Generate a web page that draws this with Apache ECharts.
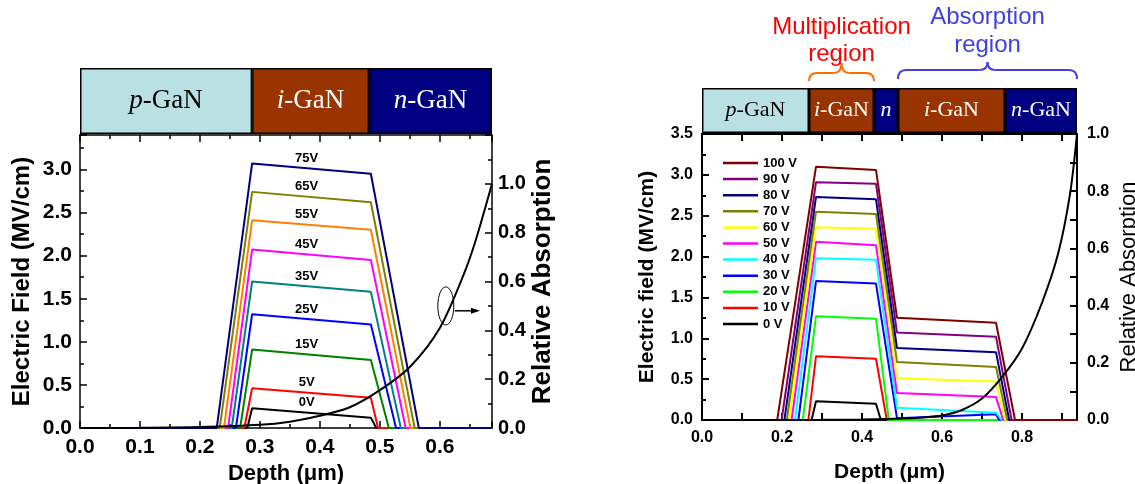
<!DOCTYPE html>
<html>
<head>
<meta charset="utf-8">
<script src="https://cdn.jsdelivr.net/npm/echarts@6/dist/echarts.min.js"></script>
<style>
  html, body { margin: 0; padding: 0; background: #fff; }
  #chart { width: 1135px; height: 484px; }
</style>
</head>
<body>
<div id="chart"></div>
<script>
// ---- left panel data (p-i-n) ----
const leftVolts = ['0V', '5V', '15V', '25V', '35V', '45V', '55V', '65V', '75V'];
const leftColors = ['#000000', '#ff0000', '#008000', '#0000ff', '#008080', '#ff00ff', '#ff8000', '#808000', '#000080'];
const leftPeakStart = [0.23, 0.46, 0.91, 1.32, 1.70, 2.07, 2.41, 2.74, 3.07];
const leftPeakEnd = [0.12, 0.35, 0.79, 1.20, 1.58, 1.95, 2.30, 2.62, 2.95];
const leftRiseFoot = [0.279, 0.274, 0.267, 0.260, 0.253, 0.247, 0.240, 0.233, 0.228];
const leftFallFoot = [0.494, 0.497, 0.515, 0.527, 0.535, 0.543, 0.551, 0.558, 0.565];
const leftPlateauX = [0.287, 0.485];
const leftLabelX = 0.378;
const leftAbsX = [0, 0.1, 0.2, 0.3, 0.35, 0.4, 0.45, 0.5, 0.55, 0.6, 0.64, 0.66, 0.687];
const leftAbsY = [0, 0.001, 0.004, 0.013, 0.026, 0.05, 0.085, 0.155, 0.25, 0.41, 0.63, 0.77, 1.0];
const leftXMax = 0.687;
const leftLayerItalic = ['p', 'i', 'n'];
const leftLayerRest = ['-GaN', '-GaN', '-GaN'];
const leftLayerWidths = [0.287, 0.195, 0.205];
const leftLayerColors = ['#b9e0e2', '#993300', '#000080'];
const leftLayerText = ['#000', '#fff', '#fff'];

// ---- right panel data (SAM structure) ----
const rightVolts = ['0 V', '10 V', '20 V', '30 V', '40 V', '50 V', '60 V', '70 V', '80 V', '90 V', '100 V'];
const rightColors = ['#000000', '#ff0000', '#00ff00', '#0000ff', '#00ffff', '#ff00ff', '#ffff00', '#808000', '#000080', '#800080', '#800000'];
const rightPeakStart = [0.23, 0.78, 1.27, 1.70, 1.98, 2.18, 2.36, 2.55, 2.73, 2.91, 3.10];
const rightPeakEnd = [0.20, 0.75, 1.24, 1.67, 1.96, 2.14, 2.34, 2.52, 2.70, 2.89, 3.06];
const rightLowStart = [null, null, null, 0.02, 0.15, 0.33, 0.51, 0.71, 0.88, 1.07, 1.25];
const rightLowEnd = [null, null, null, 0.07, 0.09, 0.28, 0.47, 0.65, 0.83, 1.02, 1.19];
const rightRiseFoot = [0.274, 0.266, 0.252, 0.241, 0.2325, 0.224, 0.2175, 0.212, 0.206, 0.199, 0.188];
const rightFallFoot = [0.447, 0.462, 0.467, 0.743, 0.749, 0.753, 0.7575, 0.763, 0.768, 0.774, 0.7825];
const rightPeakX = [0.285, 0.435];
const rightLowX = [0.4875, 0.735];
const rightAbsX = [0, 0.3, 0.4, 0.5, 0.55, 0.6, 0.65, 0.7, 0.75, 0.8, 0.85, 0.89, 0.92, 0.9375];
const rightAbsY = [0, 0.0005, 0.002, 0.005, 0.009, 0.016, 0.035, 0.075, 0.15, 0.25, 0.41, 0.58, 0.79, 1.0];
const rightXMax = 0.9375;
const rightLayerItalic = ['p', 'i', 'n', 'i', 'n'];
const rightLayerRest = ['-GaN', '-GaN', '', '-GaN', '-GaN'];
const rightLayerWidths = [0.2675, 0.1625, 0.06, 0.2675, 0.18];
const rightLayerColors = ['#b9e0e2', '#993300', '#000080', '#993300', '#000080'];
const rightLayerText = ['#000', '#fff', '#fff', '#fff', '#fff'];

const SANS = '"Liberation Sans", Arial, sans-serif';
const SERIF = '"Liberation Serif", "Times New Roman", serif';

const chart = echarts.init(document.getElementById('chart'));

function valueAxis(o) {
  return Object.assign({
    type: 'value',
    splitLine: { show: false },
    axisLine: { show: true, onZero: false, lineStyle: { color: '#000', width: o.lw || 1.5 } },
    axisTick: { show: true, inside: true, length: 7, lineStyle: { color: '#000', width: o.lw || 1.5 } },
    minorTick: { show: !!o.minor, splitNumber: 2, length: 4, lineStyle: { color: '#000', width: o.lw || 1.5 } },
    axisLabel: { show: true, color: '#000', fontFamily: SANS, fontWeight: 'bold', fontSize: 20, showMaxLabel: false },
    nameTextStyle: { color: '#000', fontFamily: SANS, fontWeight: 'bold' }
  }, o.extra);
}

const evenTenth = v => (Math.round(v * 10) % 2 === 0 ? v.toFixed(1) : '');

const series = [];

// left field profiles
leftVolts.forEach((name, i) => {
  const pts = [[0, 0], [leftRiseFoot[i], 0], [leftPlateauX[0], leftPeakStart[i]],
    [leftPlateauX[1], leftPeakEnd[i]], [leftFallFoot[i], 0], [leftXMax, 0]];
  const t = (leftLabelX - leftPlateauX[0]) / (leftPlateauX[1] - leftPlateauX[0]);
  const yLab = leftPeakStart[i] + t * (leftPeakEnd[i] - leftPeakStart[i]);
  series.push({
    name, type: 'line', xAxisIndex: 0, yAxisIndex: 0, data: pts,
    symbol: 'none', lineStyle: { color: leftColors[i], width: 2 }, itemStyle: { color: leftColors[i] },
    markPoint: {
      silent: true, symbol: 'circle', symbolSize: 1, itemStyle: { color: 'rgba(0,0,0,0)' },
      label: { show: true, position: 'top', distance: 3, formatter: '{b}', color: '#000', fontFamily: SANS, fontWeight: 'bold', fontSize: 13 },
      data: [{ name, coord: [leftLabelX, yLab] }]
    }
  });
});
series.push({
  name: 'absL', type: 'line', xAxisIndex: 0, yAxisIndex: 1, symbol: 'none', smooth: 0.3,
  data: leftAbsX.map((x, i) => [x, leftAbsY[i]]), lineStyle: { color: '#000', width: 2 }
});

// left layer band
leftLayerWidths.forEach((w, i) => {
  series.push({
    type: 'bar', xAxisIndex: 2, yAxisIndex: 2, stack: 'L', barWidth: '100%', data: [w], silent: true,
    itemStyle: { color: leftLayerColors[i], borderColor: '#000', borderWidth: 1.5 },
    label: {
      show: true, position: 'inside', formatter: '{it|' + leftLayerItalic[i] + '}{rm|' + leftLayerRest[i] + '}',
      rich: {
        it: { fontFamily: SERIF, fontStyle: 'italic', fontSize: 27, color: leftLayerText[i] },
        rm: { fontFamily: SERIF, fontSize: 27, color: leftLayerText[i] }
      }
    }
  });
});

// right field profiles
rightVolts.forEach((name, i) => {
  const pts = [[0, 0], [rightRiseFoot[i], 0], [rightPeakX[0], rightPeakStart[i]], [rightPeakX[1], rightPeakEnd[i]]];
  if (rightLowStart[i] !== null) {
    pts.push([rightLowX[0], rightLowStart[i]], [rightLowX[1], rightLowEnd[i]]);
  }
  pts.push([rightFallFoot[i], 0], [rightXMax, 0]);
  series.push({
    name, type: 'line', xAxisIndex: 3, yAxisIndex: 3, data: pts,
    symbol: 'none', lineStyle: { color: rightColors[i], width: 2 }, itemStyle: { color: rightColors[i] }
  });
});
series.push({
  name: 'absR', type: 'line', xAxisIndex: 3, yAxisIndex: 4, symbol: 'none', smooth: 0.3,
  data: rightAbsX.map((x, i) => [x, rightAbsY[i]]), lineStyle: { color: '#000', width: 2 }
});

// right layer band
rightLayerWidths.forEach((w, i) => {
  series.push({
    type: 'bar', xAxisIndex: 5, yAxisIndex: 5, stack: 'R', barWidth: '100%', data: [w], silent: true,
    itemStyle: { color: rightLayerColors[i], borderColor: '#000', borderWidth: 1.5 },
    label: {
      show: true, position: 'inside', formatter: '{it|' + rightLayerItalic[i] + '}' + (rightLayerRest[i] ? '{rm|' + rightLayerRest[i] + '}' : ''),
      rich: {
        it: { fontFamily: SERIF, fontStyle: 'italic', fontSize: 22, color: rightLayerText[i] },
        rm: { fontFamily: SERIF, fontSize: 22, color: rightLayerText[i] }
      }
    }
  });
});

const option = {
  animation: false,
  backgroundColor: '#fff',
  grid: [
    { left: 80, top: 135, width: 412, height: 293, outerBoundsMode: 'none' },
    { left: 80, top: 68, width: 412, height: 66, outerBoundsMode: 'none' },
    { left: 702, top: 134, width: 375, height: 286, outerBoundsMode: 'none' },
    { left: 702, top: 88, width: 375, height: 45, outerBoundsMode: 'none' }
  ],
  legend: {
    data: rightVolts.slice().reverse(), orient: 'vertical', left: 718, top: 151,
    icon: 'rect', itemWidth: 35, itemHeight: 2.5, itemGap: 2.1, selectedMode: false,
    textStyle: { fontFamily: SANS, fontWeight: 'bold', fontSize: 13, lineHeight: 14, color: '#000' }
  },
  xAxis: [
    valueAxis({ minor: true, extra: { gridIndex: 0, position: 'bottom', min: 0, max: leftXMax, interval: 0.1,
      name: 'Depth (μm)', nameLocation: 'middle', nameGap: 32,
      nameTextStyle: { color: '#000', fontFamily: SANS, fontWeight: 'bold', fontSize: 22 },
      axisLabel: { color: '#000', fontFamily: SANS, fontWeight: 'bold', fontSize: 21, margin: 9, showMaxLabel: false, formatter: v => v.toFixed(1) } } }),
    valueAxis({ minor: true, extra: { gridIndex: 0, position: 'top', min: 0, max: leftXMax, interval: 0.1, axisLabel: { show: false } } }),
    { type: 'value', gridIndex: 1, min: 0, max: leftXMax, show: false },
    valueAxis({ lw: 2, extra: { gridIndex: 2, position: 'bottom', min: 0, max: rightXMax, interval: 0.1,
      name: 'Depth (μm)', nameLocation: 'middle', nameGap: 42,
      nameTextStyle: { color: '#000', fontFamily: SANS, fontWeight: 'bold', fontSize: 21 },
      axisLabel: { color: '#000', fontFamily: SANS, fontWeight: 'bold', fontSize: 16, margin: 10, formatter: evenTenth } } }),
    valueAxis({ lw: 2, extra: { gridIndex: 2, position: 'top', min: 0, max: rightXMax, interval: 0.1, axisLabel: { show: false } } }),
    { type: 'value', gridIndex: 3, min: 0, max: rightXMax, show: false }
  ],
  yAxis: [
    valueAxis({ minor: true, extra: { gridIndex: 0, position: 'left', min: 0, max: 3.4, interval: 0.5,
      name: 'Electric Field (MV/cm)', nameLocation: 'middle', nameGap: 46, nameRotate: 90,
      nameTextStyle: { color: '#000', fontFamily: SANS, fontWeight: 'bold', fontSize: 24 },
      axisLabel: { color: '#000', fontFamily: SANS, fontWeight: 'bold', fontSize: 21, margin: 8, showMaxLabel: false, formatter: v => v.toFixed(1) } } }),
    valueAxis({ minor: true, extra: { gridIndex: 0, position: 'right', min: 0, max: 1.2, interval: 0.2,
      name: 'Relative Absorption', nameLocation: 'middle', nameGap: 38, nameRotate: 90,
      nameTextStyle: { color: '#000', fontFamily: SANS, fontWeight: 'bold', fontSize: 26 },
      axisLabel: { color: '#000', fontFamily: SANS, fontWeight: 'bold', fontSize: 20, margin: 6, showMaxLabel: false, formatter: v => v.toFixed(1) } } }),
    { type: 'category', gridIndex: 1, data: ['layers'], show: false },
    valueAxis({ lw: 2, minor: true, extra: { gridIndex: 2, position: 'left', min: 0, max: 3.5, interval: 0.5,
      name: 'Electric field (MV/cm)', nameLocation: 'middle', nameGap: 44, nameRotate: 90,
      nameTextStyle: { color: '#000', fontFamily: SANS, fontWeight: 'bold', fontSize: 21 },
      axisLabel: { color: '#000', fontFamily: SANS, fontWeight: 'bold', fontSize: 16, margin: 9, showMaxLabel: true, formatter: v => v.toFixed(1) } } }),
    valueAxis({ lw: 2, extra: { gridIndex: 2, position: 'right', min: 0, max: 1.0, interval: 0.1,
      name: 'Relative Absorption', nameLocation: 'middle', nameGap: 41, nameRotate: 90,
      nameTextStyle: { color: '#000', fontFamily: SANS, fontWeight: 'normal', fontSize: 22 },
      axisLabel: { color: '#000', fontFamily: SANS, fontWeight: 'bold', fontSize: 16, margin: 10, showMaxLabel: true, formatter: evenTenth } } }),
    { type: 'category', gridIndex: 3, data: ['layers'], show: false }
  ],
  series
};

chart.setOption(option);

// annotations placed through the axes
const toPx = (xi, yi, pt) => chart.convertToPixel({ xAxisIndex: xi, yAxisIndex: yi }, pt);

const ell = toPx(0, 1, [0.61, 0.50]);
const arA = toPx(0, 1, [0.625, 0.48]);
const arB = toPx(0, 1, [0.667, 0.48]);

function brace(x0, x1, yEnd, yMid, yTip, color) {
  const r = 8, xc = (x0 + x1) / 2, st = { stroke: color, lineWidth: 2, fill: 'none' };
  return [
    { type: 'bezierCurve', shape: { x1: x0, y1: yEnd, cpx1: x0, cpy1: yMid, x2: x0 + r, y2: yMid }, style: st },
    { type: 'line', shape: { x1: x0 + r, y1: yMid, x2: xc - r, y2: yMid }, style: st },
    { type: 'bezierCurve', shape: { x1: xc - r, y1: yMid, cpx1: xc, cpy1: yMid, x2: xc, y2: yTip }, style: st },
    { type: 'bezierCurve', shape: { x1: xc, y1: yTip, cpx1: xc, cpy1: yMid, x2: xc + r, y2: yMid }, style: st },
    { type: 'line', shape: { x1: xc + r, y1: yMid, x2: x1 - r, y2: yMid }, style: st },
    { type: 'bezierCurve', shape: { x1: x1 - r, y1: yMid, cpx1: x1, cpy1: yMid, x2: x1, y2: yEnd }, style: st }
  ];
}

const cum = rightLayerWidths.reduce((a, w) => { a.push(a[a.length - 1] + w); return a; }, [0]);
const mx0 = toPx(3, 3, [cum[1], 0])[0], mx1 = toPx(3, 3, [cum[2], 0])[0];
const ax0 = toPx(3, 3, [cum[3], 0])[0], ax1 = toPx(3, 3, [cum[5], 0])[0];
const mc = (mx0 + mx1) / 2, ac = (ax0 + ax1) / 2;

const txt = (x, y, s, color) => ({
  type: 'text', x, y,
  style: { text: s, fill: color, font: '24px ' + SANS, textAlign: 'center', textVerticalAlign: 'middle' }
});

chart.setOption({
  graphic: [
    { type: 'ellipse', shape: { cx: ell[0], cy: ell[1], rx: 8, ry: 19 }, style: { stroke: '#000', lineWidth: 1, fill: 'none' } },
    { type: 'line', shape: { x1: arA[0], y1: arA[1], x2: arB[0] - 6, y2: arB[1] }, style: { stroke: '#000', lineWidth: 1.5 } },
    { type: 'polygon', shape: { points: [[arB[0], arB[1]], [arB[0] - 9, arB[1] - 3], [arB[0] - 9, arB[1] + 3]] }, style: { fill: '#000' } },
    ...brace(mx0, mx1, 81, 73, 63, '#ff6a00'),
    ...brace(ax0, ax1, 79, 70, 62, '#4040e0'),
    txt(mc, 27, 'Multiplication', '#ff0000'),
    txt(mc, 54, 'region', '#ff0000'),
    txt(ac, 17, 'Absorption', '#4040e0'),
    txt(ac, 45, 'region', '#4040e0')
  ]
});
</script>
</body>
</html>
